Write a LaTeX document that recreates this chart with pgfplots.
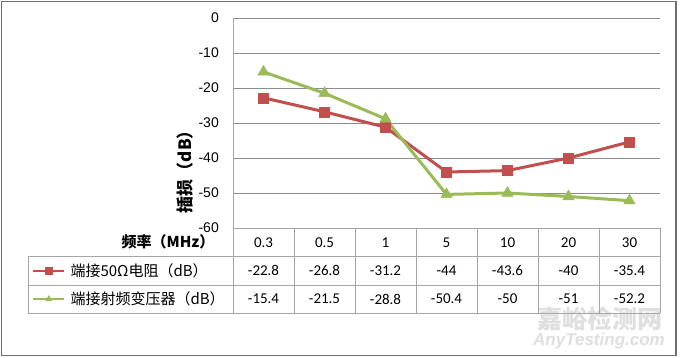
\documentclass[border=0pt]{standalone}
\usepackage{pgfplots}
\pgfplotsset{compat=1.18}
\usepackage{fontspec}
\setmainfont{Liberation Sans}
\newfontfamily\cjk{Noto Sans CJK SC}
\newfontfamily\calib{Carlito}
\definecolor{redS}{HTML}{C0504D}
\definecolor{greenS}{HTML}{9BBB59}
\definecolor{gridc}{HTML}{8C8C8C}
\definecolor{tabc}{HTML}{A6A6A6}
\definecolor{framec}{HTML}{6E6E6E}
\pgfplotstableread{
x y
0.5 -22.8
1.5 -26.8
2.5 -31.2
3.5 -44
4.5 -43.6
5.5 -40
6.5 -35.4
}\resist
\pgfplotstableread{
x y
0.5 -15.4
1.5 -21.5
2.5 -28.8
3.5 -50.4
4.5 -50
5.5 -51
6.5 -52.2
}\transf
\begin{document}
\begin{tikzpicture}[x=1pt,y=1pt]
\useasboundingbox (0,0) rectangle (680,357);
\fill[white] (0,0) rectangle (680,357);
% watermark
\node[inner sep=0pt, text=gray!25, font=\cjk\bfseries\fontsize{25}{25}\selectfont] at (600,38) {嘉峪检测网};
\node[inner sep=0pt, text=gray!25, font=\bfseries\itshape\fontsize{17}{17}\selectfont] at (599,16) {AnyTesting.com};
\begin{axis}[
  at={(233pt,129pt)}, anchor=south west,
  scale only axis, width=427pt, height=210pt,
  xmin=0, xmax=7, ymin=-60, ymax=0,
  axis lines=left,
  axis line style={tabc, -, line width=0.8pt},
  xtick=\empty,
  ytick={-60,-50,-40,-30,-20,-10,0},
  ymajorgrids,
  major grid style={gridc, line width=0.8pt},
  major tick length=0pt,
  /pgf/number format/assume math mode=true,
  yticklabel style={font=\fontsize{14}{14}\selectfont, anchor=east, inner sep=0pt, xshift=-14pt},
  legend style={at={(axis description cs:-0.4707,-0.1367)}, anchor=north west,
    draw=none, fill=none, inner sep=0pt, outer sep=0pt, row sep=0pt, column sep=5pt,
    font=\cjk\fontsize{15}{15}\selectfont,
    nodes={minimum height=28.3pt, inner sep=0pt}},
  legend cell align=left,
  legend image code/.code={\draw[mark repeat=2, mark phase=2, mark size=3.5pt, line width=2.5pt] plot coordinates {(0pt,0pt) (15.5pt,0pt) (31pt,0pt)};},
]
\addplot[redS, line width=3pt, mark=square*, mark size=5pt, mark options={fill=redS, draw=redS, line width=0.5pt}] table[x=x,y=y] {\resist};
\addlegendentry{端接50Ω电阻（dB）}
\addplot[greenS, line width=3pt, mark=triangle*, mark size=6.5pt, mark options={fill=greenS, draw=greenS, line width=0.5pt}] table[x=x,y=y] {\transf};
\addlegendentry{端接射频变压器（dB）}
\end{axis}
% axis labels
\node[rotate=90, font=\cjk\bfseries\fontsize{17}{17}\selectfont] at (185,189.5) {插损（dB）};
\node[anchor=east, font=\cjk\bfseries\fontsize{15}{15}\selectfont] at (218,115) {频率（MHz）};
% table lines
\draw[tabc, line width=0.8pt] (28,100.3) -- (660,100.3);
\draw[tabc, line width=0.8pt] (28,72) -- (660,72);
\draw[tabc, line width=0.8pt] (28,44) -- (660,44);
\draw[tabc, line width=0.8pt] (28,44) -- (28,100.3);
\foreach \xx in {233,294,355,416,477,538,599,660} {\draw[tabc, line width=0.8pt] (\xx,44) -- (\xx,129);}
% table text
\foreach \lab [count=\i from 0] in {0.3,0.5,1,5,10,20,30} {\node[inner sep=1pt, font=\calib\fontsize{15}{15}\selectfont] at ({263.5+61*\i},114.7) {\lab};}
\foreach \lab [count=\i from 0] in {-22.8,-26.8,-31.2,-44,-43.6,-40,-35.4} {\node[inner sep=1pt, font=\calib\fontsize{15}{15}\selectfont] at ({263.5+61*\i},86.1) {\lab};}
\foreach \lab [count=\i from 0] in {-15.4,-21.5,-28.8,-50.4,-50,-51,-52.2} {\node[inner sep=1pt, font=\calib\fontsize{15}{15}\selectfont] at ({263.5+61*\i},58) {\lab};}
% outer frame
\draw[framec, line width=1.5pt] (1.5,1.5) rectangle (676,355.5);
\end{tikzpicture}
\end{document}
